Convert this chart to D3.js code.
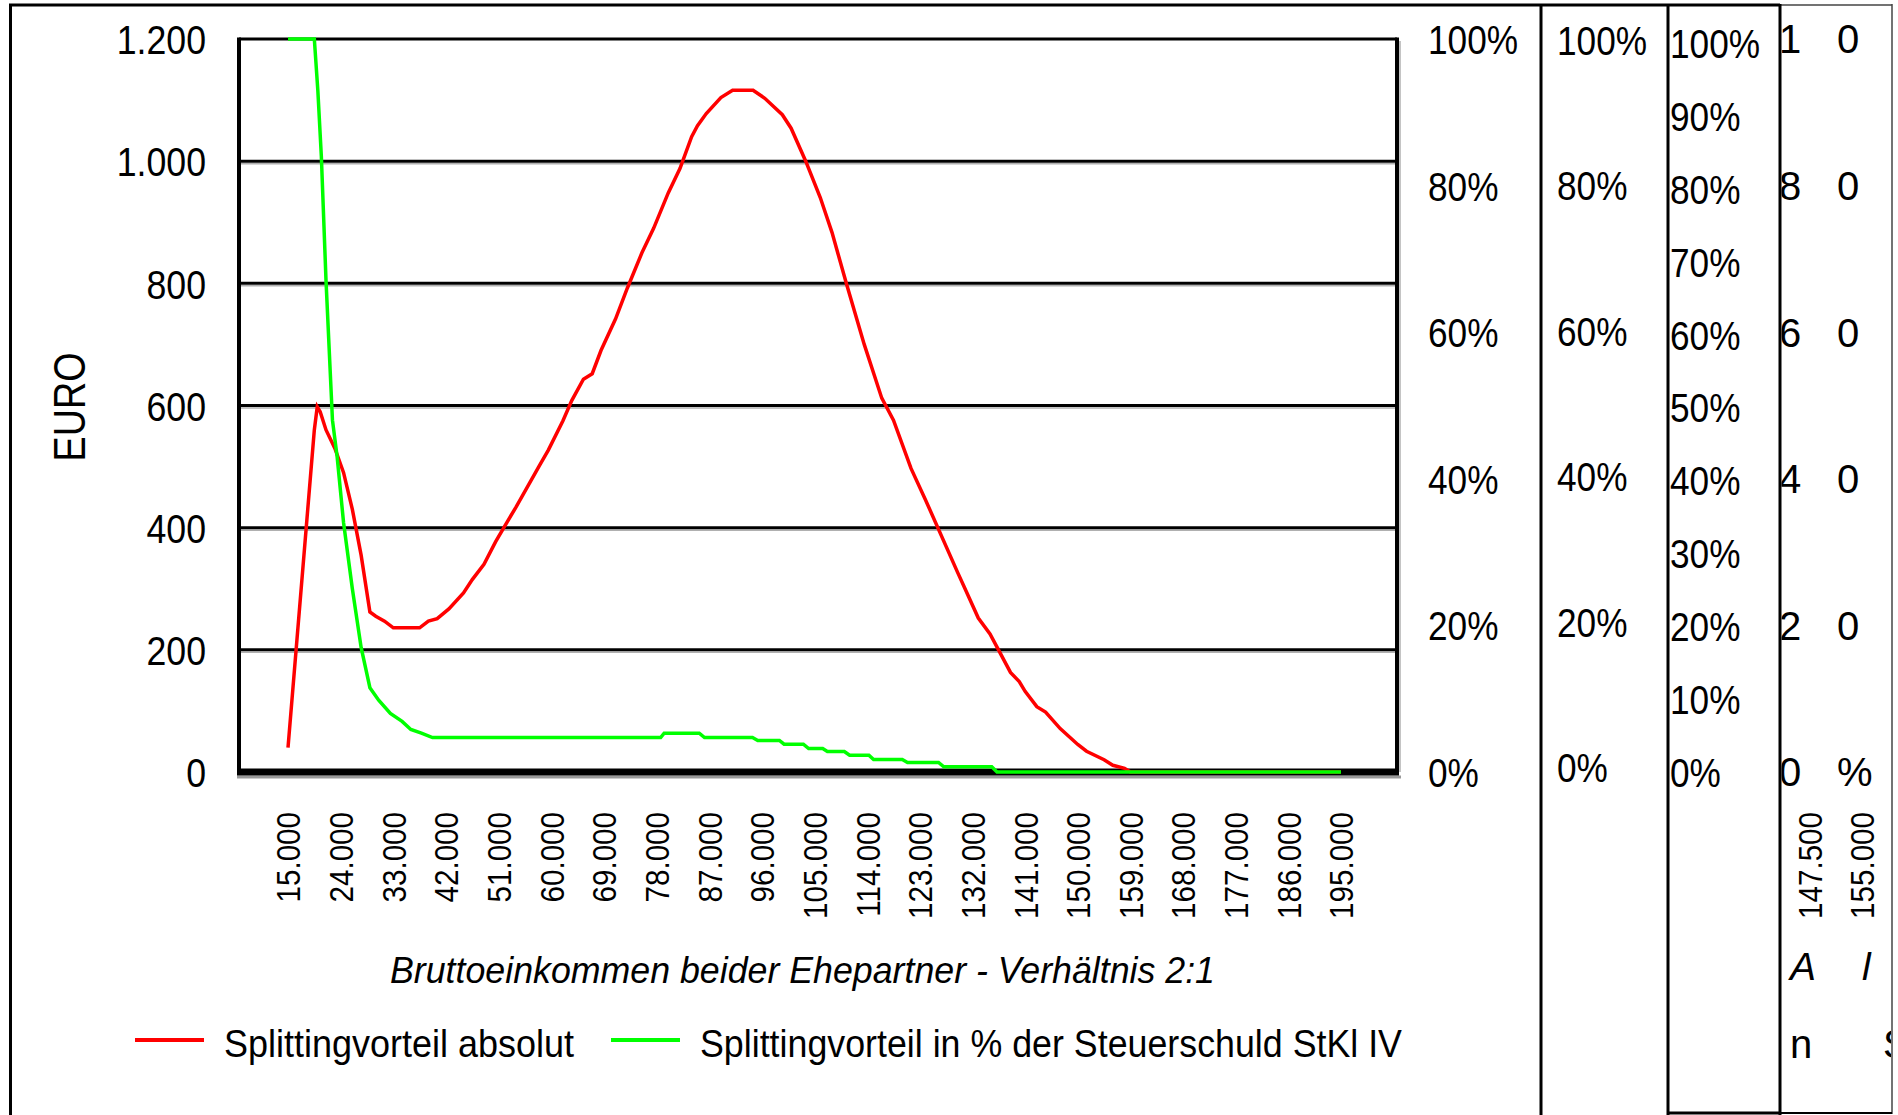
<!DOCTYPE html>
<html>
<head>
<meta charset="utf-8">
<script src="https://cdn.jsdelivr.net/npm/d3@7/dist/d3.min.js"></script>
<style>
  body { margin: 0; background: #fff; }
  svg { display: block; font-family: "Liberation Sans", Arial, sans-serif; }
</style>
</head>
<body>
<div id="chart"></div>
<script>
"use strict";

//data *************************************************************
// red series: Splittingvorteil absolut (EURO) by gross income
var einkommenAbs = [15000, 19500, 20000, 20500, 21500, 23000, 24500, 26000, 27500, 29000,
  30000, 31500, 33000, 37500, 39000, 40500, 42500, 45000, 46500, 48500,
  50500, 52500, 54000, 56000, 58000, 59500, 62000, 63500, 65500, 67000,
  68500, 71000, 73000, 75500, 77500, 80000, 82000, 84000, 85000, 86500,
  89000, 91000, 94500, 96500, 99500, 101000, 103500, 106000, 108000, 110500,
  113500, 116500, 118500, 121500, 124000, 129500, 130500, 133000, 135000, 136500,
  138500, 140000, 141000, 143000, 144500, 147000, 150000, 151500, 154500, 156000,
  158000, 159000, 195000];
var vorteilAbs = [40, 560, 598, 590, 560, 530, 490, 430, 355, 262,
  255, 247, 236, 236, 247, 251, 267, 293, 315, 340,
  377, 410, 434, 468, 502, 527, 575, 608, 643, 652,
  690, 742, 792, 850, 890, 948, 988, 1040, 1058, 1078,
  1104, 1116, 1116, 1103, 1076, 1054, 1000, 940, 883, 798,
  700, 612, 576, 497, 445, 326, 305, 252, 226, 199,
  163, 148, 132, 107, 98, 71, 45, 34, 20, 11,
  6, 0, 0];

// green series: Splittingvorteil in % der Steuerschuld
var einkommenProz = [15000, 19500, 20100, 20700, 21500, 22600, 23400, 24500, 26000, 27500,
  29000, 30500, 32500, 34500, 36000, 37800, 39700, 78700, 79300, 85300,
  86200, 94400, 95300, 99000, 99800, 103100, 104000, 106400, 107200, 110100,
  111000, 114300, 115100, 120000, 120900, 126200, 127100, 135300, 136200, 195000];
var vorteilProz = [100, 100, 93, 84, 67, 48, 43, 34, 25, 17,
  11.5, 9.8, 8, 6.9, 5.8, 5.3, 4.7, 4.7, 5.3, 5.3,
  4.7, 4.7, 4.3, 4.3, 3.8, 3.8, 3.2, 3.2, 2.8, 2.8,
  2.3, 2.3, 1.7, 1.7, 1.3, 1.3, 0.7, 0.7, 0, 0];

var euroTicks = [0, 200, 400, 600, 800, 1000, 1200];
var xTicks = [15000, 24000, 33000, 42000, 51000, 60000, 69000, 78000, 87000, 96000, 105000,
  114000, 123000, 132000, 141000, 150000, 159000, 168000, 177000, 186000, 195000];
var prozTicks = [0, 20, 40, 60, 80, 100];
var prozTicksFein = [0, 10, 20, 30, 40, 50, 60, 70, 80, 90, 100];
var restTicks = [147500, 155000];
var legendLabels = ["Splittingvorteil absolut", "Splittingvorteil in % der Steuerschuld StKl IV"];
var seriesColors = ["#ff0000", "#00ff00"];
var xTitle = "Bruttoeinkommen beider Ehepartner - Verhältnis 2:1";
var yTitle = "EURO";


//setup *************************************************************
var width = 1898;
var height = 1115;
var plot = { left: 239, right: 1397, top: 39, bottom: 772 };

var de = d3.formatLocale({ decimal: ",", thousands: ".", grouping: [3], currency: ["", " €"] });
var fmt = de.format(",");
var pct = function(d) { return d + "%"; };

var svg = d3.select("#chart").append("svg")
  .attr("width", width)
  .attr("height", height);

// squeeze text horizontally like the narrow original font
function squeeze(sel, f) {
  sel.each(function() {
    var w = this.getComputedTextLength();
    d3.select(this).attr("textLength", w * f).attr("lengthAdjust", "spacingAndGlyphs");
  });
}
function fitTo(sel, w) {
  sel.attr("textLength", w).attr("lengthAdjust", "spacingAndGlyphs");
}

var x = d3.scaleLinear().domain([15000, 195000]).range([288, 1341]);
var y = d3.scaleLinear().domain([0, 1200]).range([plot.bottom, plot.top]);
var yP = d3.scaleLinear().domain([0, 100]).range([plot.bottom, plot.top]);
var yP2 = d3.scaleLinear().domain([0, 100]).range([767, 40]);
var yP3 = d3.scaleLinear().domain([0, 100]).range([772, 43]);
var xRest = d3.scaleLinear().domain(restTicks).range([1810, 1862]);


//frame lines *************************************************************
var frame = svg.append("g").attr("stroke", "#000").attr("fill", "none");
frame.append("line").attr("x1", 9).attr("x2", 1780).attr("y1", 5).attr("y2", 5).attr("stroke-width", 3);
frame.append("line").attr("x1", 1780).attr("x2", 1892).attr("y1", 5).attr("y2", 5).attr("stroke-width", 1.5).attr("stroke", "#444");
frame.append("line").attr("x1", 10.5).attr("x2", 10.5).attr("y1", 4).attr("y2", height).attr("stroke-width", 3);
[1541, 1668, 1780].forEach(function(xx) {
  frame.append("line").attr("x1", xx).attr("x2", xx).attr("y1", 4).attr("y2", height).attr("stroke-width", 3);
});
frame.append("line").attr("x1", 1892).attr("x2", 1892).attr("y1", 4).attr("y2", 1114).attr("stroke-width", 1.5).attr("stroke", "#444");
frame.append("line").attr("x1", 1668).attr("x2", 1780).attr("y1", 1113).attr("y2", 1113).attr("stroke-width", 3);
frame.append("line").attr("x1", 1780).attr("x2", 1892).attr("y1", 1113).attr("y2", 1113).attr("stroke-width", 2);


//grid + plot border *************************************************************
var grid = svg.append("g");
grid.selectAll(".shadow")
  .data(euroTicks.filter(function(d) { return d > 0 && d < 1200; }))
  .enter().append("line")
  .attr("x1", plot.left).attr("x2", plot.right)
  .attr("y1", function(d) { return y(d) + 2.5; })
  .attr("y2", function(d) { return y(d) + 2.5; })
  .attr("stroke", "#b0b0b0").attr("stroke-width", 1.5);
grid.selectAll(".gl")
  .data(euroTicks.filter(function(d) { return d > 0; }))
  .enter().append("line")
  .attr("x1", plot.left).attr("x2", plot.right)
  .attr("y1", function(d) { return y(d); })
  .attr("y2", function(d) { return y(d); })
  .attr("stroke", "#000").attr("stroke-width", 3);

grid.append("line").attr("x1", plot.right + 3).attr("x2", plot.right + 3)
  .attr("y1", plot.top + 2).attr("y2", plot.bottom).attr("stroke", "#b0b0b0").attr("stroke-width", 1.5);
grid.append("line").attr("x1", plot.left).attr("x2", plot.left)
  .attr("y1", plot.top - 1.5).attr("y2", plot.bottom).attr("stroke", "#000").attr("stroke-width", 4);
grid.append("line").attr("x1", plot.right).attr("x2", plot.right)
  .attr("y1", plot.top - 1.5).attr("y2", plot.bottom).attr("stroke", "#000").attr("stroke-width", 4);
grid.append("line").attr("x1", plot.left - 2).attr("x2", plot.right + 4)
  .attr("y1", plot.bottom + 5).attr("y2", plot.bottom + 5).attr("stroke", "#999").attr("stroke-width", 3);
grid.append("line").attr("x1", plot.left - 2).attr("x2", plot.right + 2)
  .attr("y1", plot.bottom).attr("y2", plot.bottom).attr("stroke", "#000").attr("stroke-width", 7);


//axes *************************************************************
var yAxis = svg.append("g")
  .attr("transform", "translate(" + plot.left + ",0)")
  .call(d3.axisLeft(y).tickValues(euroTicks).tickFormat(fmt).tickSize(0).tickPadding(33));
yAxis.select(".domain").remove();
yAxis.attr("font-family", null).attr("font-size", 41);
yAxis.selectAll("text").attr("dy", "0.36em").call(squeeze, 0.87);

var xAxis = svg.append("g")
  .attr("transform", "translate(0," + plot.bottom + ")")
  .call(d3.axisBottom(x).tickValues(xTicks).tickFormat(fmt).tickSize(0));
xAxis.select(".domain").remove();
xAxis.attr("font-family", null).attr("font-size", 34);
xAxis.selectAll("text")
  .attr("transform", "rotate(-90)")
  .attr("x", -40).attr("y", 0).attr("dy", "0.35em")
  .attr("text-anchor", "end")
  .call(squeeze, 0.87);

var rAxis = svg.append("g")
  .attr("transform", "translate(" + plot.right + ",0)")
  .call(d3.axisRight(yP).tickValues(prozTicks).tickFormat(pct).tickSize(0).tickPadding(31));
rAxis.select(".domain").remove();
rAxis.attr("font-family", null).attr("font-size", 40);
rAxis.selectAll("text").attr("dy", "0.36em").call(squeeze, 0.88);

var rAxis2 = svg.append("g")
  .attr("transform", "translate(1557,0)")
  .call(d3.axisRight(yP2).tickValues(prozTicks).tickFormat(pct).tickSize(0).tickPadding(0));
rAxis2.select(".domain").remove();
rAxis2.attr("font-family", null).attr("font-size", 40);
rAxis2.selectAll("text").attr("dy", "0.36em").call(squeeze, 0.88);

var rAxis3 = svg.append("g")
  .attr("transform", "translate(1670,0)")
  .call(d3.axisRight(yP3).tickValues(prozTicksFein).tickFormat(pct).tickSize(0).tickPadding(0));
rAxis3.select(".domain").remove();
rAxis3.attr("font-family", null).attr("font-size", 40);
rAxis3.selectAll("text").attr("dy", "0.36em").call(squeeze, 0.88);

// last narrow panel: only the first two glyphs of each label fit
svg.append("clipPath").attr("id", "clipD")
  .append("rect").attr("x", 1781.5).attr("y", 6).attr("width", 109.5).attr("height", 1106);
var panelD = svg.append("g").attr("clip-path", "url(#clipD)");

var charCols = [1779, 1837];
var rowD = panelD.selectAll(".rowD")
  .data(prozTicks)
  .enter().append("g")
  .attr("class", "rowD")
  .attr("font-size", 40)
  .attr("transform", function(d) { return "translate(0," + yP(d) + ")"; });
charCols.forEach(function(cx, k) {
  rowD.append("text")
    .attr("x", cx)
    .attr("dy", "0.36em")
    .text(function(d) { return pct(d).charAt(k); });
});

var xAxis4 = panelD.append("g")
  .attr("transform", "translate(0," + plot.bottom + ")")
  .call(d3.axisBottom(xRest).tickValues(restTicks).tickFormat(fmt).tickSize(0));
xAxis4.select(".domain").remove();
xAxis4.attr("font-family", null).attr("font-size", 34);
xAxis4.selectAll("text")
  .attr("transform", "rotate(-90)")
  .attr("x", -40).attr("y", 0).attr("dy", "0.35em")
  .attr("text-anchor", "end")
  .call(squeeze, 0.87);

panelD.append("text").attr("x", 1790).attr("y", 980).attr("font-size", 39).attr("font-style", "italic").text("A");
panelD.append("text").attr("x", 1862).attr("y", 980).attr("font-size", 39).attr("font-style", "italic").text("l");
panelD.append("text").attr("x", 1790).attr("y", 1058).attr("font-size", 40).text("n");
panelD.append("text").attr("x", 1883).attr("y", 1058).attr("font-size", 40).text("S");


//titles *************************************************************
svg.append("text")
  .attr("transform", "translate(69,407) rotate(-90)")
  .attr("text-anchor", "middle")
  .attr("dy", "0.36em")
  .attr("font-size", 44)
  .text(yTitle)
  .call(fitTo, 109);

svg.append("text")
  .attr("x", 390).attr("y", 983)
  .attr("font-size", 37)
  .attr("font-style", "italic")
  .text(xTitle)
  .call(fitTo, 825);


//lines *************************************************************
svg.append("clipPath").attr("id", "clipPlot")
  .append("rect").attr("x", plot.left).attr("y", plot.top - 3).attr("width", plot.right - plot.left).attr("height", plot.bottom - plot.top + 6);

var lineAbs = d3.line()
  .x(function(d) { return x(d[0]); })
  .y(function(d) { return y(d[1]); });
var lineProz = d3.line()
  .x(function(d) { return x(d[0]); })
  .y(function(d) { return yP(d[1]); });

var lines = svg.append("g").attr("clip-path", "url(#clipPlot)").attr("fill", "none").attr("stroke-width", 3.5);
lines.append("path")
  .attr("d", lineAbs(d3.zip(einkommenAbs, vorteilAbs)))
  .attr("stroke", seriesColors[0]);
lines.append("path")
  .attr("d", lineProz(d3.zip(einkommenProz, vorteilProz)))
  .attr("stroke", seriesColors[1]);


//legend *************************************************************
var legLineX = [135, 611];
var legTextX = [224, 700];
var legTextW = [350, 702];

var legend = svg.selectAll(".legend")
  .data(legendLabels)
  .enter().append("g")
  .attr("class", "legend");

legend.append("line")
  .attr("x1", function(d, i) { return legLineX[i]; })
  .attr("x2", function(d, i) { return legLineX[i] + 69; })
  .attr("y1", 1040).attr("y2", 1040)
  .attr("stroke", function(d, i) { return seriesColors[i]; })
  .attr("stroke-width", 4);

legend.append("text")
  .attr("x", function(d, i) { return legTextX[i]; })
  .attr("y", 1057)
  .attr("font-size", 39)
  .text(function(d) { return d; })
  .each(function(d, i) { d3.select(this).call(fitTo, legTextW[i]); });
</script>
</body>
</html>
